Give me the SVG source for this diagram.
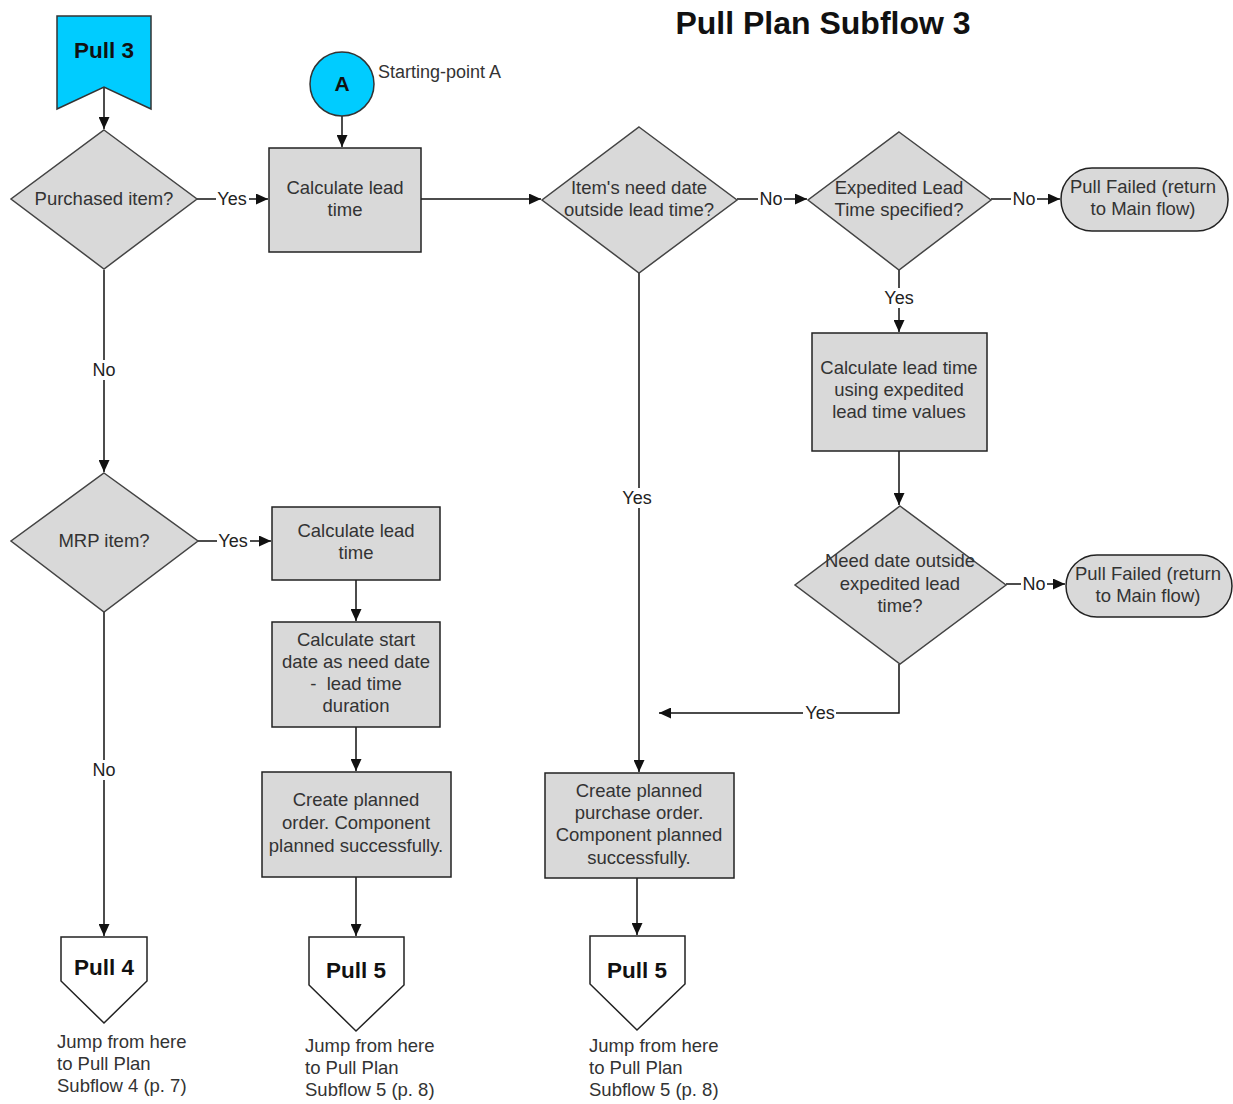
<svg xmlns="http://www.w3.org/2000/svg" width="1233" height="1104" viewBox="0 0 1233 1104">
<style>
.bg{fill:#ffffff}
.proc{fill:#d9d9d9;stroke:#222;stroke-width:1.5}
.dec{fill:#d9d9d9;stroke:#444;stroke-width:1.5}
.term{fill:#d9d9d9;stroke:#222;stroke-width:1.5}
.cyan{fill:#00ccff;stroke:#333;stroke-width:1.5}
.off{fill:#ffffff;stroke:#222;stroke-width:1.5}
.t{font-family:"Liberation Sans",Arial,sans-serif;font-size:18.5px;fill:#333;text-anchor:middle}
.b{font-family:"Liberation Sans",Arial,sans-serif;font-size:22.5px;font-weight:bold;fill:#111;text-anchor:middle}
.cap{font-family:"Liberation Sans",Arial,sans-serif;font-size:18.5px;fill:#333}
.lbl{font-family:"Liberation Sans",Arial,sans-serif;font-size:18px;fill:#222;text-anchor:middle}
.c{fill:none;stroke:#111;stroke-width:1.5}
.lb{fill:#ffffff}
</style>
<defs>
<marker id="arr" markerUnits="userSpaceOnUse" markerWidth="13" markerHeight="11" refX="12" refY="5.5" orient="auto">
<path d="M0,0 L12,5.5 L0,11 z" fill="#111"/>
</marker>
</defs>
<rect class="bg" x="0" y="0" width="1233" height="1104"/>
<text x="823" y="34" font-family="'Liberation Sans',Arial,sans-serif" font-size="32" font-weight="bold" fill="#111" text-anchor="middle">Pull Plan Subflow 3</text>

<g id="connectors">
<path class="c" d="M104,87 V129" marker-end="url(#arr)"/>
<path class="c" d="M342,116 V147" marker-end="url(#arr)"/>
<path class="c" d="M197,199 H268" marker-end="url(#arr)"/>
<path class="c" d="M421,199 H541" marker-end="url(#arr)"/>
<path class="c" d="M737,199 H807" marker-end="url(#arr)"/>
<path class="c" d="M991,199 H1060" marker-end="url(#arr)"/>
<path class="c" d="M899,270 V332" marker-end="url(#arr)"/>
<path class="c" d="M899,451 V505" marker-end="url(#arr)"/>
<path class="c" d="M1006,584 H1065" marker-end="url(#arr)"/>
<path class="c" d="M899,664 V713 H659" marker-end="url(#arr)"/>
<path class="c" d="M639,273 V772" marker-end="url(#arr)"/>
<path class="c" d="M637,878 V935" marker-end="url(#arr)"/>
<path class="c" d="M104,270 V472" marker-end="url(#arr)"/>
<path class="c" d="M198,541 H271" marker-end="url(#arr)"/>
<path class="c" d="M356,580 V621" marker-end="url(#arr)"/>
<path class="c" d="M356,727 V771" marker-end="url(#arr)"/>
<path class="c" d="M356,877 V936" marker-end="url(#arr)"/>
<path class="c" d="M104,612 V936" marker-end="url(#arr)"/>
<rect class="lb" x="216" y="189" width="33" height="20"/>
<text class="lbl" x="232" y="205">Yes</text>
<rect class="lb" x="758" y="189" width="26" height="20"/>
<text class="lbl" x="771" y="205">No</text>
<rect class="lb" x="1011" y="189" width="26" height="20"/>
<text class="lbl" x="1024" y="205">No</text>
<rect class="lb" x="883" y="288" width="33" height="20"/>
<text class="lbl" x="899" y="304">Yes</text>
<rect class="lb" x="1021" y="574" width="26" height="20"/>
<text class="lbl" x="1034" y="590">No</text>
<rect class="lb" x="803" y="703" width="33" height="20"/>
<text class="lbl" x="820" y="719">Yes</text>
<rect class="lb" x="621" y="488" width="33" height="20"/>
<text class="lbl" x="637" y="504">Yes</text>
<rect class="lb" x="91" y="360" width="26" height="20"/>
<text class="lbl" x="104" y="376">No</text>
<rect class="lb" x="217" y="531" width="33" height="20"/>
<text class="lbl" x="233" y="547">Yes</text>
<rect class="lb" x="91" y="760" width="26" height="20"/>
<text class="lbl" x="104" y="776">No</text>
</g>

<g id="pull3">
<path class="cyan" d="M57,16 H151 V109 L104,87 L57,109 Z"/>
<text class="b" x="104" y="58">Pull 3</text>
</g>
<g id="startA">
<circle class="cyan" cx="342" cy="84" r="32"/>
<text class="b" x="342" y="91" style="font-size:21px">A</text>
<text class="cap" x="378" y="78" style="font-size:18px">Starting-point A</text>
</g>
<g id="purchased">
<path class="dec" d="M104,130 L197,199 L104,269 L11,199 Z"/>
<text class="t" x="104" y="205">Purchased item?</text>
</g>
<g id="calc1">
<rect class="proc" x="269" y="148" width="152" height="104"/>
<text class="t" x="345" y="194">Calculate lead</text>
<text class="t" x="345" y="216">time</text>
</g>
<g id="needdate">
<path class="dec" d="M639,127 L737,200 L639,273 L542,200 Z"/>
<text class="t" x="639" y="194">Item's need date</text>
<text class="t" x="639" y="216">outside lead time?</text>
</g>
<g id="expedited">
<path class="dec" d="M899,132 L991,200 L899,270 L808,200 Z"/>
<text class="t" x="899" y="194">Expedited Lead</text>
<text class="t" x="899" y="216">Time specified?</text>
</g>
<g id="fail1">
<rect class="term" x="1061" y="168" width="167" height="63" rx="31" ry="31"/>
<text class="t" x="1143" y="193">Pull Failed (return</text>
<text class="t" x="1143" y="215">to Main flow)</text>
</g>
<g id="calcexp">
<rect class="proc" x="812" y="333" width="175" height="118"/>
<text class="t" x="899" y="374">Calculate lead time</text>
<text class="t" x="899" y="396">using expedited</text>
<text class="t" x="899" y="418">lead time values</text>
</g>
<g id="needexp">
<path class="dec" d="M900,506 L1006,585 L900,664 L795,585 Z"/>
<text class="t" x="900" y="567">Need date outside</text>
<text class="t" x="900" y="590">expedited lead</text>
<text class="t" x="900" y="612">time?</text>
</g>
<g id="fail2">
<rect class="term" x="1066" y="555" width="166" height="62" rx="31" ry="31"/>
<text class="t" x="1148" y="580">Pull Failed (return</text>
<text class="t" x="1148" y="602">to Main flow)</text>
</g>
<g id="purchaseorder">
<rect class="proc" x="545" y="773" width="189" height="105"/>
<text class="t" x="639" y="797">Create planned</text>
<text class="t" x="639" y="819">purchase order.</text>
<text class="t" x="639" y="841">Component planned</text>
<text class="t" x="639" y="864">successfully.</text>
</g>
<g id="pull5b">
<path class="off" d="M590,936 H685 V984 L637,1030 L590,984 Z"/>
<text class="b" x="637" y="978">Pull 5</text>
<text class="cap" x="589" y="1052">Jump from here</text>
<text class="cap" x="589" y="1074">to Pull Plan</text>
<text class="cap" x="589" y="1096">Subflow 5 (p. 8)</text>
</g>
<g id="mrp">
<path class="dec" d="M104,473 L198,541 L104,612 L11,541 Z"/>
<text class="t" x="104" y="547">MRP item?</text>
</g>
<g id="calc2">
<rect class="proc" x="272" y="507" width="168" height="73"/>
<text class="t" x="356" y="537">Calculate lead</text>
<text class="t" x="356" y="559">time</text>
</g>
<g id="startdate">
<rect class="proc" x="272" y="622" width="168" height="105"/>
<text class="t" x="356" y="646">Calculate start</text>
<text class="t" x="356" y="668">date as need date</text>
<text class="t" x="356" y="690" xml:space="preserve">-  lead time</text>
<text class="t" x="356" y="712">duration</text>
</g>
<g id="plannedorder">
<rect class="proc" x="262" y="772" width="189" height="105"/>
<text class="t" x="356" y="806">Create planned</text>
<text class="t" x="356" y="829">order. Component</text>
<text class="t" x="356" y="852">planned successfully.</text>
</g>
<g id="pull5a">
<path class="off" d="M309,937 H404 V985 L356,1031 L309,985 Z"/>
<text class="b" x="356" y="978">Pull 5</text>
<text class="cap" x="305" y="1052">Jump from here</text>
<text class="cap" x="305" y="1074">to Pull Plan</text>
<text class="cap" x="305" y="1096">Subflow 5 (p. 8)</text>
</g>
<g id="pull4">
<path class="off" d="M61,937 H147 V981 L104,1023 L61,981 Z"/>
<text class="b" x="104" y="975">Pull 4</text>
<text class="cap" x="57" y="1048">Jump from here</text>
<text class="cap" x="57" y="1070">to Pull Plan</text>
<text class="cap" x="57" y="1092">Subflow 4 (p. 7)</text>
</g>
</svg>
